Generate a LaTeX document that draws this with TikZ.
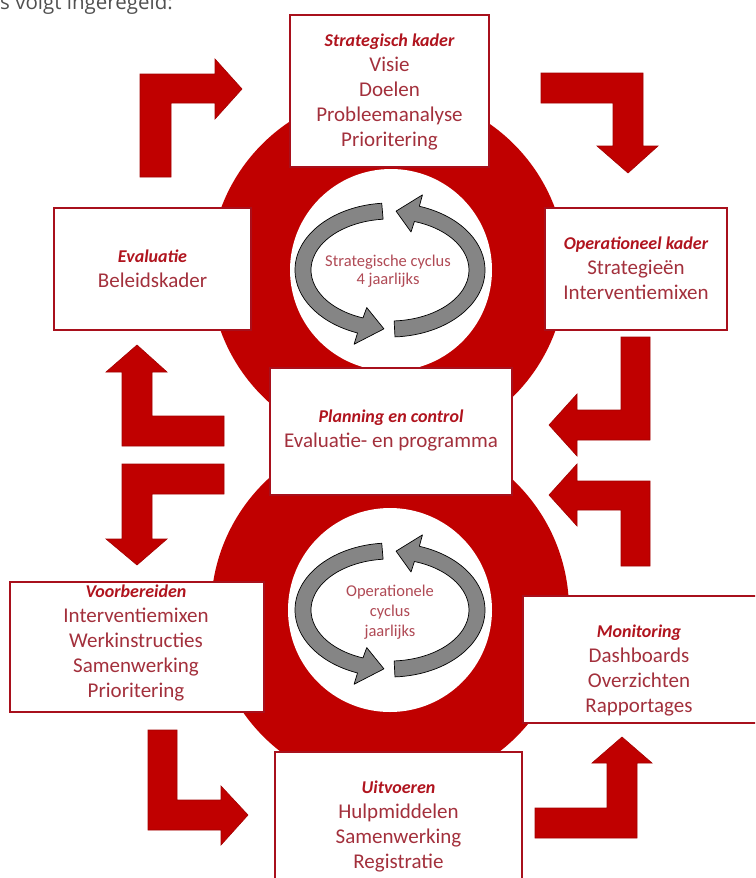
\documentclass[tikz,border=0pt]{standalone}
\usepackage{fontspec}
\setmainfont{Carlito}
\newfontfamily\topfont{Open Sans}
\definecolor{circred}{HTML}{C00000}
\definecolor{arrred}{HTML}{C00000}
\definecolor{boxred}{HTML}{A8101C}
\definecolor{titred}{HTML}{B0141E}
\definecolor{bodyred}{HTML}{A3303C}
\definecolor{cycred}{HTML}{B04A55}
\definecolor{cycgray}{HTML}{858585}
\definecolor{topgray}{HTML}{505050}
\newcommand\ttl[1]{{\fontsize{18}{25}\selectfont\bfseries\itshape\color{titred}#1}}
\begin{document}
\begin{tikzpicture}[x=1pt,y=-1pt,
  box/.style={draw=boxred, line width=2pt, fill=white, inner sep=0pt},
  txt/.style={align=center, text=bodyred, font=\fontsize{21}{25}\selectfont, inner sep=0pt},
  ctxt/.style={align=center, text=cycred, inner sep=0pt},
  larrow/.style={fill=arrred, draw=arrred!85!black, line width=0.6pt, line join=miter},
  cyc/.style={fill=cycgray, draw=black, line width=0.7pt, line join=round}]
\useasboundingbox (0,0) rectangle (755,878);
\clip (0,0) rectangle (755,878);
\fill[white] (0,0) rectangle (755,878);

% header text (cut off at the top edge, as in the reference)
\node[anchor=base west, inner sep=0pt, text=topgray, font=\topfont\fontsize{20.5}{24}\selectfont] (hdr) at (0,9.5) {s volgt ingeregeld:};

% red circles
\fill[circred] (388,270) circle[radius=178];
\fill[circred] (390,610) circle[radius=179];
% white inner circles
\fill[white] (391,270) circle[radius=101];
\fill[white] (390,610) circle[radius=102];

% cycle arrows
\foreach \cy in {270,610}{
\begin{scope}[shift={(390,\cy)},yscale=-1]
  \draw[cyc] (95:95 and 67) arc[start angle=95, end angle=250, x radius=95, y radius=67]
    -- (250:105 and 79) -- (266:87 and 59) -- (250:68 and 40) -- (250:79 and 51)
    arc[start angle=250, end angle=95, x radius=79, y radius=51] -- cycle;
  \draw[cyc] (-87:95 and 67) arc[start angle=-87, end angle=72, x radius=95, y radius=67]
    -- (72:105 and 79) -- (86:87 and 59) -- (72:68 and 40) -- (72:79 and 51)
    arc[start angle=72, end angle=-87, x radius=79, y radius=51] -- cycle;
\end{scope}}
\node[ctxt, font=\fontsize{16.5}{18}\selectfont] (c1) at (388,271) {Strategische cyclus\\4 jaarlijks};
\node[ctxt, font=\fontsize{16.5}{20}\selectfont] (c2) at (390,612) {Operationele\\cyclus\\jaarlijks};

% boxes
\node[box, minimum width=199, minimum height=152] (b1) at (389.5,91) {};
\node[box, minimum width=197, minimum height=122] (b2) at (152.5,269) {};
\node[box, minimum width=182, minimum height=122] (b3) at (636,269) {};
\node[box, minimum width=242, minimum height=127] (b4) at (391,431.5) {};
\node[box, minimum width=254, minimum height=130] (b5) at (137,647) {};
\node[box, minimum width=240, minimum height=127] (b6) at (643,659.5) {};
\node[box, minimum width=247, minimum height=140] (b7) at (398.5,822) {};

\node[txt] (t1) at (389.5,92) {\ttl{Strategisch kader}\\Visie\\Doelen\\Probleemanalyse\\Prioritering};
\node[txt] (t2) at (152.5,268.5) {\ttl{Evaluatie}\\Beleidskader};
\node[txt] (t3) at (636,268.5) {\ttl{Operationeel kader}\\Strategieën\\Interventiemixen};
\node[txt] (t4) at (391,430.5) {\ttl{Planning en control}\\Evaluatie- en programma};
\node[txt] (t5) at (136,643) {\ttl{Voorbereiden}\\Interventiemixen\\Werkinstructies\\Samenwerking\\Prioritering};
\node[txt] (t6) at (639,670) {\ttl{Monitoring}\\Dashboards\\Overzichten\\Rapportages};
\node[txt] (t7) at (398.5,826) {\ttl{Uitvoeren}\\Hulpmiddelen\\Samenwerking\\Registratie};

% L-shaped block arrows
\draw[larrow] (140,177) -- (140,74) -- (215,74) -- (215,59) -- (242,89) -- (215,119) -- (215,103) -- (171,103) -- (171,177) -- cycle;
\draw[larrow] (541,73) -- (643,73) -- (643,146) -- (658,146) -- (628,173) -- (597,146) -- (613,146) -- (613,103) -- (541,103) -- cycle;
\draw[larrow] (224,416) -- (224,446) -- (122,446) -- (122,372) -- (106,372) -- (137,345) -- (167,372) -- (152,372) -- (152,416) -- cycle;
\draw[larrow] (224,464) -- (224,494) -- (152,494) -- (152,539) -- (167,539) -- (137,565) -- (106,539) -- (122,539) -- (122,464) -- cycle;
\draw[larrow] (621,337) -- (650,337) -- (650,440) -- (577,440) -- (577,456) -- (549,425) -- (577,394) -- (577,410) -- (621,410) -- cycle;
\draw[larrow] (650,566) -- (621,566) -- (621,510) -- (577,510) -- (577,526) -- (549,495) -- (577,464) -- (577,481) -- (650,481) -- cycle;
\draw[larrow] (148,730) -- (177,730) -- (177,800) -- (221,800) -- (221,786) -- (248,815) -- (221,845) -- (221,830) -- (148,830) -- cycle;
\draw[larrow] (535,808) -- (607,808) -- (607,763) -- (592,763) -- (622,737) -- (652,763) -- (637,763) -- (637,838) -- (535,838) -- cycle;
\end{tikzpicture}
\end{document}
